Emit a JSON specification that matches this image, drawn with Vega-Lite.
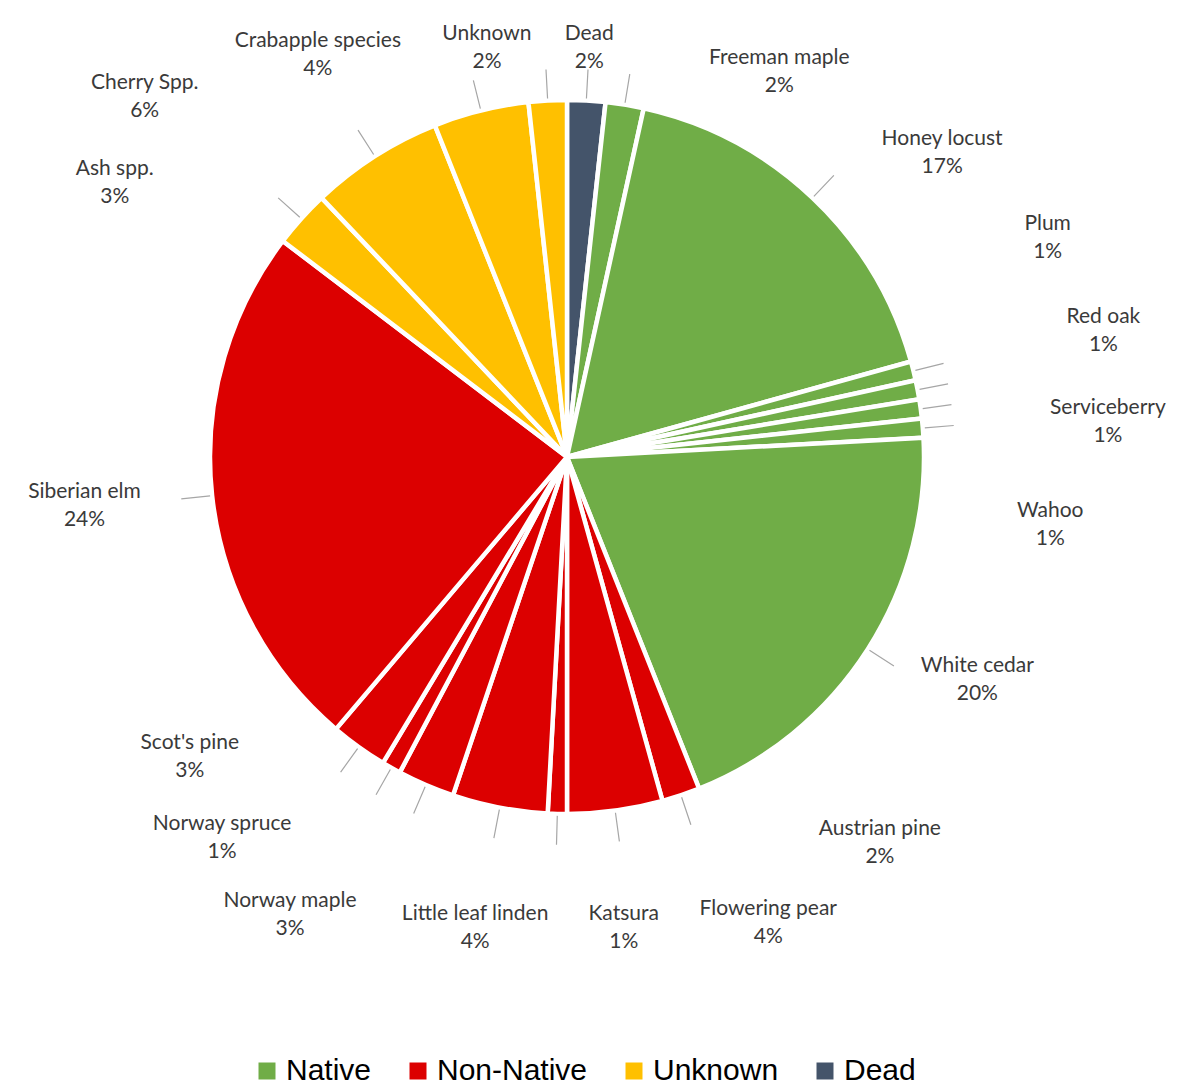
{
  "$schema": "https://vega.github.io/schema/vega-lite/v6.json",
  "width": 1134,
  "height": 914,
  "autosize": {"type": "none"},
  "padding": {"left": 0, "top": 0, "right": 49, "bottom": 172},
  "background": "white",
  "config": {
    "view": {"stroke": null},
    "text": {"font": "Lato", "fontSize": 21, "lineHeight": 28, "lineBreak": "\n", "color": "#3a3a3a", "dy": -14}
  },
  "data": {
    "values": [
      {"idx": 1, "species": "Dead", "group": "Dead", "count": 2, "label": "Dead\n2%"},
      {"idx": 2, "species": "Freeman maple", "group": "Native", "count": 2, "label": "Freeman maple\n2%"},
      {"idx": 3, "species": "Honey locust", "group": "Native", "count": 20, "label": "Honey locust\n17%"},
      {"idx": 4, "species": "Plum", "group": "Native", "count": 1, "label": "Plum\n1%"},
      {"idx": 5, "species": "Red oak", "group": "Native", "count": 1, "label": "Red oak\n1%"},
      {"idx": 6, "species": "Serviceberry", "group": "Native", "count": 1, "label": "Serviceberry\n1%"},
      {"idx": 7, "species": "Wahoo", "group": "Native", "count": 1, "label": "Wahoo\n1%"},
      {"idx": 8, "species": "White cedar", "group": "Native", "count": 23, "label": "White cedar\n20%"},
      {"idx": 9, "species": "Austrian pine", "group": "Non-Native", "count": 2, "label": "Austrian pine\n2%"},
      {"idx": 10, "species": "Flowering pear", "group": "Non-Native", "count": 5, "label": "Flowering pear\n4%"},
      {"idx": 11, "species": "Katsura", "group": "Non-Native", "count": 1, "label": "Katsura\n1%"},
      {"idx": 12, "species": "Little leaf linden", "group": "Non-Native", "count": 5, "label": "Little leaf linden\n4%"},
      {"idx": 13, "species": "Norway maple", "group": "Non-Native", "count": 3, "label": "Norway maple\n3%"},
      {"idx": 14, "species": "Norway spruce", "group": "Non-Native", "count": 1, "label": "Norway spruce\n1%"},
      {"idx": 15, "species": "Scot's pine", "group": "Non-Native", "count": 3, "label": "Scot's pine\n3%"},
      {"idx": 16, "species": "Siberian elm", "group": "Non-Native", "count": 28, "label": "Siberian elm\n24%"},
      {"idx": 17, "species": "Ash spp.", "group": "Unknown", "count": 3, "label": "Ash spp.\n3%"},
      {"idx": 18, "species": "Cherry Spp.", "group": "Unknown", "count": 7, "label": "Cherry Spp.\n6%"},
      {"idx": 19, "species": "Crabapple species", "group": "Unknown", "count": 5, "label": "Crabapple species\n4%"},
      {"idx": 20, "species": "Unknown", "group": "Unknown", "count": 2, "label": "Unknown\n2%"}
    ]
  },
  "encoding": {
    "theta": {"field": "count", "type": "quantitative", "stack": true},
    "order": {"field": "idx", "type": "quantitative"},
    "detail": {"field": "species", "type": "nominal"}
  },
  "layer": [
    {
      "mark": {"type": "arc", "outerRadius": 357, "stroke": "white", "strokeWidth": 4.5},
      "encoding": {
        "color": {
          "field": "group",
          "type": "nominal",
          "scale": {"domain": ["Native", "Non-Native", "Unknown", "Dead"], "range": ["#70AD47", "#DC0000", "#FFC000", "#44546A"]},
          "legend": {
            "title": null,
            "orient": "none",
            "direction": "horizontal",
            "legendX": 252,
            "legendY": 1056,
            "padding": 0,
            "columnPadding": 31,
            "labelOffset": 4,
            "symbolType": "square",
            "symbolSize": 289,
            "symbolStrokeWidth": 0,
            "symbolOpacity": 1,
            "labelFont": "Liberation Sans",
            "labelFontSize": 30,
            "labelColor": "#000000",
            "labelLimit": 300
          }
        }
      }
    },
    {
      "mark": {"type": "arc", "innerRadius": 359, "outerRadius": 388, "padAngle": 1.4, "filled": false, "color": "#a6a6a6", "strokeWidth": 1.2}
    },
    {"mark": {"type": "text", "radius": 410, "thetaOffset": 0.0}, "encoding": {"text": {"condition": {"test": "datum.idx === 1", "field": "label"}, "value": ""}}},
    {"mark": {"type": "text", "radius": 440, "thetaOffset": 0.341}, "encoding": {"text": {"condition": {"test": "datum.idx === 2", "field": "label"}, "value": ""}}},
    {"mark": {"type": "text", "radius": 483, "thetaOffset": 0.131}, "encoding": {"text": {"condition": {"test": "datum.idx === 3", "field": "label"}, "value": ""}}},
    {"mark": {"type": "text", "radius": 528, "thetaOffset": -0.183}, "encoding": {"text": {"condition": {"test": "datum.idx === 4", "field": "label"}, "value": ""}}},
    {"mark": {"type": "text", "radius": 551, "thetaOffset": -0.041}, "encoding": {"text": {"condition": {"test": "datum.idx === 5", "field": "label"}, "value": ""}}},
    {"mark": {"type": "text", "radius": 542, "thetaOffset": 0.071}, "encoding": {"text": {"condition": {"test": "datum.idx === 6", "field": "label"}, "value": ""}}},
    {"mark": {"type": "text", "radius": 488, "thetaOffset": 0.221}, "encoding": {"text": {"condition": {"test": "datum.idx === 7", "field": "label"}, "value": ""}}},
    {"mark": {"type": "text", "radius": 467, "thetaOffset": -0.071}, "encoding": {"text": {"condition": {"test": "datum.idx === 8", "field": "label"}, "value": ""}}},
    {"mark": {"type": "text", "radius": 497, "thetaOffset": -0.356}, "encoding": {"text": {"condition": {"test": "datum.idx === 9", "field": "label"}, "value": ""}}},
    {"mark": {"type": "text", "radius": 508, "thetaOffset": -0.272}, "encoding": {"text": {"condition": {"test": "datum.idx === 10", "field": "label"}, "value": ""}}},
    {"mark": {"type": "text", "radius": 474, "thetaOffset": -0.147}, "encoding": {"text": {"condition": {"test": "datum.idx === 11", "field": "label"}, "value": ""}}},
    {"mark": {"type": "text", "radius": 480, "thetaOffset": 0.003}, "encoding": {"text": {"condition": {"test": "datum.idx === 12", "field": "label"}, "value": ""}}},
    {"mark": {"type": "text", "radius": 535, "thetaOffset": 0.138}, "encoding": {"text": {"condition": {"test": "datum.idx === 13", "field": "label"}, "value": ""}}},
    {"mark": {"type": "text", "radius": 514, "thetaOffset": 0.221}, "encoding": {"text": {"condition": {"test": "datum.idx === 14", "field": "label"}, "value": ""}}},
    {"mark": {"type": "text", "radius": 482, "thetaOffset": 0.276}, "encoding": {"text": {"condition": {"test": "datum.idx === 15", "field": "label"}, "value": ""}}},
    {"mark": {"type": "text", "radius": 485, "thetaOffset": 0.007}, "encoding": {"text": {"condition": {"test": "datum.idx === 16", "field": "label"}, "value": ""}}},
    {"mark": {"type": "text", "radius": 529, "thetaOffset": -0.186}, "encoding": {"text": {"condition": {"test": "datum.idx === 17", "field": "label"}, "value": ""}}},
    {"mark": {"type": "text", "radius": 555, "thetaOffset": -0.296}, "encoding": {"text": {"condition": {"test": "datum.idx === 18", "field": "label"}, "value": ""}}},
    {"mark": {"type": "text", "radius": 473, "thetaOffset": -0.311}, "encoding": {"text": {"condition": {"test": "datum.idx === 19", "field": "label"}, "value": ""}}},
    {"mark": {"type": "text", "radius": 417, "thetaOffset": -0.139}, "encoding": {"text": {"condition": {"test": "datum.idx === 20", "field": "label"}, "value": ""}}}
  ]
}
